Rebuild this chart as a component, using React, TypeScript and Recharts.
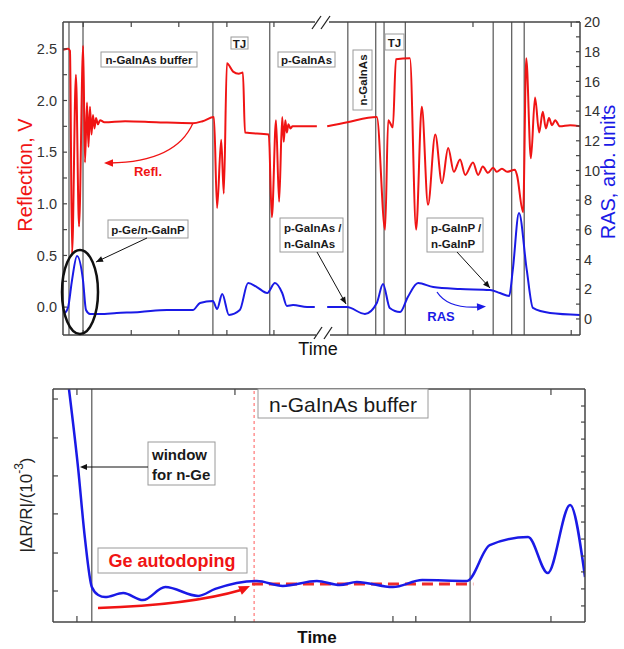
import React from "react";
import { LineChart, Line, XAxis, YAxis, ReferenceLine } from "recharts";

const FONT = '"Liberation Sans", Arial, Helvetica, sans-serif';
const RED = "#f01414";
const BLUE = "#1a1ae6";
const AXIS = "#444";

// ---- top panel: in-situ reflection (left axis) and RAS (right axis) ----
const reflTime = [
  0, 1.0, 1.35, 1.75, 2.5, 3.1, 3.9, 4.25, 4.64, 4.93, 5.22, 5.51, 5.8, 6.09, 6.38, 6.77, 7.16, 8, 12, 18,
  25.1, 27, 29.2, 29.8, 30.6, 31.1, 31.7, 32.9, 34.0, 34.8, 35.2, 39.8, 40.4, 41.2, 41.8, 42.4, 42.7, 43.0,
  43.3, 43.6, 44.0, 44.4, 49.1, 50, 51.1, 55, 60.7, 62.3, 62.9, 63.8, 64.4, 67.1, 68.3, 69.4, 70.6, 72.0,
  73.3, 74.5, 75.6, 76.8, 77.8, 79.3, 80.3, 81.2, 82.2, 83.2, 83.9, 84.9, 85.9, 87.4, 87.8, 89.0, 89.6, 90.5,
  91.3, 92.1, 92.8, 93.4, 94.0, 94.6, 95.2, 96.1, 98.1, 100,
];
const reflValue = [
  2.49, 2.5, 2.48, 0.52, 2.25, 0.78, 2.53, 1.4, 1.98, 1.55, 1.94, 1.67, 1.86, 1.73, 1.83, 1.77, 1.81, 1.79, 1.8, 1.79,
  1.78, 1.8, 1.84, 0.96, 1.62, 1.1, 2.36, 2.28, 2.26, 2.27, 1.69, 1.67, 0.87, 1.81, 1.02, 1.84, 1.6, 1.81,
  1.69, 1.77, 1.73, 1.75, 1.75, null, 1.75, 1.79, 1.84, 0.75, 1.81, 1.74, 2.4, 2.41, 0.75, 1.94, 0.99, 1.67,
  1.2, 1.54, 1.31, 1.43, 1.28, 1.4, 1.28, 1.36, 1.3, 1.35, 1.31, 1.34, 1.31, 1.33, 1.28, 0.92, 2.41, 1.44,
  2.03, 1.69, 1.89, 1.73, 1.83, 1.76, 1.81, 1.75, 1.76, 1.75,
];
const rasTime = [
  0.39, 1.0, 1.74, 2.71, 3.87, 4.45, 5.22, 7.16, 10.4, 14.9, 20.1, 25.1, 26.5, 29.0, 29.8, 30.8, 32.1, 34.2,
  35.8, 37.5, 39.5, 41.0, 42.4, 43.3, 44.5, 47.2, 48.7, 50, 51.1, 54.9, 58.4, 60.7, 61.9, 63.2, 65.2, 66.7,
  68.7, 71.6, 76.8, 82.6, 84.5, 86.3, 87.0, 88.2, 89.7, 90.9, 94.2, 100,
];
const rasValue = [
  0.4, 0.8, 2.6, 4.24, 2.6, 0.6, 0.34, 0.34, 0.4, 0.47, 0.6, 0.6, 1.08, 1.21, 0.67, 1.68, 0.27, 0.6,
  2.42, 2.15, 1.75, 2.42, 1.75, 0.88, 0.94, 0.8, 0.8, null, 0.8, 0.8, 0.34, 1.08, 2.36, 0.74, 0.47, 1.48,
  2.42, 2.15, 2.02, 1.95, 1.75, 1.55, 3.3, 7.14, 3.3, 0.74, 0.4, 0.27,
];
const layerEdges = [1.16, 3.87, 29.0, 40.0, 55.1, 60.5, 62.1, 66.2, 83.2, 86.8, 89.2];
const topTimeTicks = [3.9, 13.2, 22.4, 31.7, 40.8, 79.3, 98.3];
const reflTicks = [0, 0.25, 0.5, 0.75, 1.0, 1.25, 1.5, 1.75, 2.0, 2.25, 2.5];
const rasTicks = [0, 1, 2, 3, 4, 5, 6, 7, 8, 9, 10, 11, 12, 13, 14, 15, 16, 17, 18, 19, 20];

// ---- bottom panel: |dR/R| transient ----
const drTime = [
  3.0, 4.7, 6.0, 7.3, 8.5, 9.8, 13.2, 16.9, 21.1, 27.3, 30.5, 38.3, 43.2, 49.6, 53.9, 57.1, 63.9, 69.4, 77.8,
  82.1, 89.3, 93.0, 97.2, 100,
];
const drValue = [
  100, 66.5, 36, 15.0, 11.6, 10.7, 12.4, 9.4, 15.0, 11.2, 14.2, 17.6, 15.5, 17.6, 15.9, 17.2, 15.0, 18.0, 17.6,
  33.0, 36.5, 21.0, 50.2, 19.3,
];
const levelTime = [37.4, 79];
const levelValue = [16.3, 16.3];
const bufferEdges = [7.3, 78.4];
const bufferStart = 37.8;
const lowerTimeTicks = [4.5, 34.2, 63.9, 68.2, 93.6];
const lowerTopTicks = [4.5, 34.2, 93.6];
const lowerLeftTicks = [13.3, 29.6, 46.4, 62.7, 79.0, 95.7];
const lowerRightTicks = [6.9, 14.2, 21.5, 28.3, 35.6, 42.9, 49.8, 57.1, 64.4, 71.2, 78.5, 85.8, 92.7];

const pairs = (ts: number[], vs: (number | null)[]) => ts.map((t, i) => ({ t, v: vs[i] }));

const tickStyle = { fill: "#333", fontSize: 14.5, fontFamily: FONT };
const axisLine = { stroke: AXIS, strokeWidth: 1.5 };
const tickLine = { stroke: AXIS, strokeWidth: 1.2 };
const blank = () => "";

function Head({ tip, from, size = 8, color = "#111" }: { tip: [number, number]; from: [number, number]; size?: number; color?: string }) {
  const a = Math.atan2(tip[1] - from[1], tip[0] - from[0]);
  const bx = tip[0] - size * Math.cos(a);
  const by = tip[1] - size * Math.sin(a);
  const w = size * 0.42;
  const p1 = [bx - w * Math.sin(a), by + w * Math.cos(a)];
  const p2 = [bx + w * Math.sin(a), by - w * Math.cos(a)];
  return <polygon points={`${tip[0]},${tip[1]} ${p1[0]},${p1[1]} ${p2[0]},${p2[1]}`} fill={color} />;
}

function Leader({ x1, y1, x2, y2 }: { x1: number; y1: number; x2: number; y2: number }) {
  return (
    <g>
      <line x1={x1} y1={y1} x2={x2} y2={y2} stroke="#111" strokeWidth={1} />
      <Head tip={[x2, y2]} from={[x1, y1]} size={7} />
    </g>
  );
}

function Box({ x, y, w, h }: { x: number; y: number; w: number; h: number }) {
  return <rect x={x} y={y} width={w} height={h} fill="#fff" stroke="#9a9a9a" strokeWidth={1} />;
}

function Overlay() {
  const bold = { fontFamily: FONT, fontWeight: 700, fontSize: 11.5, fill: "#1a1a1a" };
  return (
    <svg width={624} height={649} style={{ position: "absolute", left: 0, top: 0, pointerEvents: "none" }}>
      {/* axis break marks */}
      <rect x={315} y={19} width={14} height={6} fill="#fff" />
      <line x1={312} y1={29} x2={321} y2={16} stroke="#222" strokeWidth={1.3} />
      <line x1={321} y1={29} x2={330} y2={16} stroke="#222" strokeWidth={1.3} />
      <rect x={316} y={332} width={14} height={6} fill="#fff" />
      <line x1={314} y1={339} x2={322} y2={327} stroke="#222" strokeWidth={1.3} />
      <line x1={324} y1={339} x2={332} y2={327} stroke="#222" strokeWidth={1.3} />

      {/* top labels */}
      <Box x={101} y={52} w={96} h={15} />
      <text x={149} y={60} textAnchor="middle" dominantBaseline="central" {...bold}>n-GaInAs buffer</text>
      <Box x={231} y={37} w={17} h={12} />
      <text x={239.5} y={43.5} textAnchor="middle" dominantBaseline="central" {...bold}>TJ</text>
      <Box x={278} y={52} w={57} h={15} />
      <text x={306.5} y={60} textAnchor="middle" dominantBaseline="central" {...bold}>p-GaInAs</text>
      <Box x={353} y={50} w={19} h={60} />
      <text x={362.5} y={80} textAnchor="middle" dominantBaseline="central" transform="rotate(-90 362.5 80)" {...bold}>n-GaInAs</text>
      <Box x={385} y={34} w={19} h={16} />
      <text x={394.5} y={42.5} textAnchor="middle" dominantBaseline="central" {...bold}>TJ</text>

      <Box x={108} y={220} w={80} h={18} />
      <text x={148} y={229.5} textAnchor="middle" dominantBaseline="central" {...bold}>p-Ge/n-GaInP</text>
      <Box x={280} y={218} w={63} h={34} />
      <text x={284} y={227.5} dominantBaseline="central" {...bold}>p-GaInAs /</text>
      <text x={284} y={243.5} dominantBaseline="central" {...bold}>n-GaInAs</text>
      <Box x={427} y={218} w={56} h={34} />
      <text x={431} y={227.5} dominantBaseline="central" {...bold}>p-GaInP /</text>
      <text x={431} y={243.5} dominantBaseline="central" {...bold}>n-GaInP</text>

      <ellipse cx={80} cy={292} rx={18} ry={42} fill="none" stroke="#111" strokeWidth={2.5} />
      <Leader x1={147} y1={238} x2={96} y2={262} />
      <Leader x1={317} y1={252} x2={346} y2={304} />
      <Leader x1={457} y1={252} x2={490} y2={288} />

      <path d="M193,123 Q176,162 110,163" fill="none" stroke={RED} strokeWidth={1.3} />
      <Head tip={[104, 163]} from={[115, 163]} size={9} color={RED} />
      <text x={148} y={171} textAnchor="middle" dominantBaseline="central" fontFamily={FONT} fontWeight={700} fontSize={13} fill={RED}>Refl.</text>
      <path d="M437,292 Q448,309 479,307" fill="none" stroke={BLUE} strokeWidth={1.3} />
      <Head tip={[486, 306.5]} from={[476, 307]} size={9} color={BLUE} />
      <text x={441} y={316} textAnchor="middle" dominantBaseline="central" fontFamily={FONT} fontWeight={700} fontSize={13} fill={BLUE}>RAS</text>

      <text x={25} y={175} textAnchor="middle" dominantBaseline="central" transform="rotate(-90 25 175)" fontFamily={FONT} fontSize={20} fill={RED}>Reflection, V</text>
      <text x={608} y={172} textAnchor="middle" dominantBaseline="central" transform="rotate(-90 608 172)" fontFamily={FONT} fontSize={20} fill={BLUE}>RAS, arb. units</text>
      <text x={318} y={355} textAnchor="middle" fontFamily={FONT} fontSize={18} fill="#111">Time</text>

      {/* bottom labels */}
      <Box x={258} y={389} w={170} h={29} />
      <text x={343} y={404} textAnchor="middle" dominantBaseline="central" fontFamily={FONT} fontSize={21} fill="#1a1a1a">n-GaInAs buffer</text>
      <Box x={148} y={442} w={67} h={43} />
      <text x={152} y={454} dominantBaseline="central" fontFamily={FONT} fontWeight={700} fontSize={15} fill="#1a1a1a">window</text>
      <text x={152} y={474} dominantBaseline="central" fontFamily={FONT} fontWeight={700} fontSize={15} fill="#1a1a1a">for n-Ge</text>
      <line x1={148} y1={467} x2={86} y2={467} stroke="#111" strokeWidth={1} />
      <Head tip={[80, 467]} from={[90, 467]} size={7} />
      <Box x={98} y={548} w={149} h={25} />
      <text x={172} y={561} textAnchor="middle" dominantBaseline="central" fontFamily={FONT} fontWeight={700} fontSize={18} fill={RED}>Ge autodoping</text>
      <path d="M98,608 Q190,605 241,590" fill="none" stroke={RED} strokeWidth={2.5} />
      <Head tip={[250, 586]} from={[240, 590.5]} size={11} color={RED} />

      <text x={26} y={505} textAnchor="middle" dominantBaseline="central" transform="rotate(-90 26 505)" fontFamily={FONT} fontSize={17} fill="#222">
        |ΔR/R|/(10<tspan dy={-7} fontSize={12}>-3</tspan><tspan dy={7}>)</tspan>
      </text>
      <text x={317} y={643} textAnchor="middle" fontFamily={FONT} fontWeight={700} fontSize={17} fill="#111">Time</text>
    </svg>
  );
}

function TopPanel() {
  return (
    <LineChart width={624} height={362} margin={{ top: 21, right: 0, bottom: 0, left: 13 }}>
      <XAxis xAxisId="b" dataKey="t" type="number" domain={[0, 100]} ticks={topTimeTicks} interval={0} height={27}
        axisLine={axisLine} tickLine={tickLine} tickSize={-5} tick={tickStyle} tickFormatter={blank} allowDataOverflow />
      <XAxis xAxisId="top" orientation="top" dataKey="t" type="number" domain={[0, 100]} ticks={topTimeTicks} interval={0} height={1}
        axisLine={axisLine} tickLine={tickLine} tickSize={-5} tick={tickStyle} tickFormatter={blank} allowDataOverflow />
      <YAxis yAxisId="refl" type="number" domain={[-0.27, 2.76]} ticks={reflTicks} interval={0} width={50} allowDataOverflow
        axisLine={axisLine} tickLine={tickLine} tickSize={-4} tickMargin={10} tick={tickStyle}
        tickFormatter={(v: number) => (Math.round(v * 100) % 50 === 0 ? v.toFixed(1) : "")} />
      <YAxis yAxisId="ras" orientation="right" type="number" domain={[-1.08, 20]} ticks={rasTicks} interval={0} width={44} allowDataOverflow
        axisLine={axisLine} tickLine={tickLine} tickSize={-4} tickMargin={8} tick={tickStyle}
        tickFormatter={(v: number) => (v % 2 === 0 ? String(v) : "")} />
      {layerEdges.map((x) => (
        <ReferenceLine key={x} x={x} xAxisId="b" yAxisId="refl" stroke="#333" strokeWidth={1} />
      ))}
      <Line xAxisId="b" yAxisId="refl" data={pairs(reflTime, reflValue)} dataKey="v" type="monotone" stroke={RED}
        strokeWidth={2} dot={false} isAnimationActive={false} />
      <Line xAxisId="b" yAxisId="ras" data={pairs(rasTime, rasValue)} dataKey="v" type="monotone" stroke={BLUE}
        strokeWidth={2} dot={false} isAnimationActive={false} />
    </LineChart>
  );
}

function BottomPanel() {
  return (
    <LineChart width={624} height={289} margin={{ top: 28, right: 0, bottom: 0, left: 0 }}>
      <XAxis xAxisId="b" dataKey="t" type="number" domain={[0, 100]} ticks={lowerTimeTicks} interval={0} height={27}
        axisLine={axisLine} tickLine={tickLine} tickSize={-6} tick={tickStyle} tickFormatter={blank} allowDataOverflow />
      <XAxis xAxisId="top" orientation="top" dataKey="t" type="number" domain={[0, 100]} ticks={lowerTopTicks} interval={0} height={1}
        axisLine={axisLine} tickLine={tickLine} tickSize={-6} tick={tickStyle} tickFormatter={blank} allowDataOverflow />
      <YAxis yAxisId="l" type="number" domain={[0, 100]} ticks={lowerLeftTicks} interval={0} width={53} allowDataOverflow
        axisLine={axisLine} tickLine={tickLine} tickSize={-5} tick={tickStyle} tickFormatter={blank} />
      <YAxis yAxisId="r" orientation="right" type="number" domain={[0, 100]} ticks={lowerRightTicks} interval={0} width={39} allowDataOverflow
        axisLine={axisLine} tickLine={tickLine} tickSize={-4} tick={tickStyle} tickFormatter={blank} />
      {bufferEdges.map((x) => (
        <ReferenceLine key={x} x={x} xAxisId="b" yAxisId="l" stroke="#333" strokeWidth={1} />
      ))}
      <ReferenceLine x={bufferStart} xAxisId="b" yAxisId="l" stroke="#ff5a5a" strokeWidth={1} strokeDasharray="3 3" />
      <Line xAxisId="b" yAxisId="l" data={pairs(levelTime, levelValue)} dataKey="v" type="linear" stroke="#ee2a2a"
        strokeWidth={3} strokeDasharray="11 6" dot={false} isAnimationActive={false} />
      <Line xAxisId="b" yAxisId="l" data={pairs(drTime, drValue)} dataKey="v" type="monotone" stroke={BLUE}
        strokeWidth={2.5} dot={false} isAnimationActive={false} />
    </LineChart>
  );
}

export default function App() {
  return (
    <div style={{ position: "absolute", left: 0, top: 0, width: 624, height: 649, background: "#fff" }}>
      <div style={{ position: "absolute", left: 0, top: 0 }}>
        <TopPanel />
      </div>
      <div style={{ position: "absolute", left: 0, top: 360 }}>
        <BottomPanel />
      </div>
      <Overlay />
    </div>
  );
}
